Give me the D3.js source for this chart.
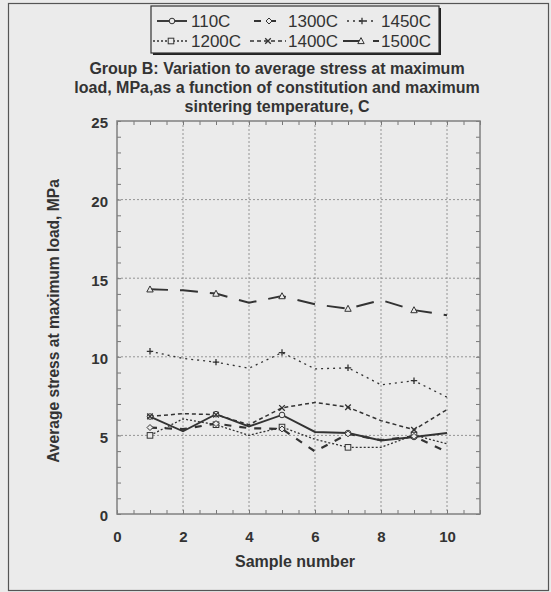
<!DOCTYPE html>
<html>
<head>
<meta charset="utf-8">
<script src="https://cdn.jsdelivr.net/npm/d3@7"></script>
<style>
  body { margin: 0; background: #ebebeb; }
  svg { display: block; font-family: "Liberation Sans", Arial, sans-serif; }
</style>
</head>
<body>
<svg id="chart" width="551" height="592"></svg>
<script>
// data
const samples = [1, 2, 3, 4, 5, 6, 7, 8, 9, 10];
const s110  = [6.2, 5.26, 6.35, 5.57, 6.3, 5.22, 5.15, 4.68, 4.9, 5.15];
const s1200 = [5.0, 6.05, 5.68, 5.0, 5.53, 4.75, 4.24, 4.24, 5.02, 4.47];
const s1300 = [5.5, 5.4, 5.75, 5.46, 5.41, 3.98, 5.1, 4.7, 4.94, 3.95];
const s1400 = [6.21, 6.38, 6.32, 5.68, 6.75, 7.1, 6.79, 5.94, 5.36, 6.64];
const s1450 = [10.35, 9.9, 9.66, 9.27, 10.27, 9.23, 9.3, 8.22, 8.48, 7.43];
const s1500 = [14.29, 14.23, 14.02, 13.44, 13.86, 13.34, 13.06, 13.61, 12.97, 12.65];
const xTicks = [0, 2, 4, 6, 8, 10];
const yTicks = [0, 5, 10, 15, 20, 25];

const series = [
  {name: '110C',  values: s110,  dash: null,    width: 1.9, marker: 'circle'},
  {name: '1200C', values: s1200, dash: '2,2',   width: 1.3, marker: 'square'},
  {name: '1300C', values: s1300, dash: '7,8',   width: 2.2, marker: 'diamond'},
  {name: '1400C', values: s1400, dash: '4,3',   width: 1.5, marker: 'cross'},
  {name: '1450C', values: s1450, dash: '2,4',   width: 1.3, marker: 'plus'},
  {name: '1500C', values: s1500, dash: '18,12', width: 2,   marker: 'triangle'}
];

const ink = '#333';
const bg = '#ebebeb';
const svg = d3.select('#chart');

// outer frame
svg.append('rect')
  .attr('x', 8.5).attr('y', 3.5).attr('width', 540).attr('height', 587)
  .attr('fill', bg).attr('stroke', '#555').attr('stroke-width', 1.2);

const pLeft = 117, pRight = 480, pTop = 121, pBottom = 514;
const x = d3.scaleLinear().domain([0, 11]).range([pLeft, pRight]);
const y = d3.scaleLinear().domain([0, 25]).range([pBottom, pTop]);

// grid
const grid = svg.append('g')
  .attr('stroke', '#8a8a8a').attr('stroke-width', 0.9).attr('stroke-dasharray', '2,2');
grid.selectAll('.gx').data(xTicks.filter(d => d > 0))
  .enter().append('line')
    .attr('x1', d => x(d)).attr('x2', d => x(d))
    .attr('y1', pTop).attr('y2', pBottom);
grid.selectAll('.gy').data(yTicks.filter(d => d > 0 && d < 25))
  .enter().append('line')
    .attr('x1', pLeft).attr('x2', pRight)
    .attr('y1', d => y(d)).attr('y2', d => y(d));

// minor ticks, pointing inwards on all four sides
const xMinor = d3.range(0, 11.01, 0.5);
const yMinor = d3.range(0, 25.01, 1);
const tickStyle = g => {
  g.select('.domain').remove();
  g.selectAll('line').attr('stroke', '#777').attr('stroke-width', 1);
  g.selectAll('text').remove();
};
svg.append('g').attr('transform', `translate(0,${pBottom})`)
  .call(d3.axisBottom(x).tickValues(xMinor).tickSize(-4)).call(tickStyle);
svg.append('g').attr('transform', `translate(0,${pTop})`)
  .call(d3.axisTop(x).tickValues(xMinor).tickSize(-4)).call(tickStyle);
svg.append('g').attr('transform', `translate(${pLeft},0)`)
  .call(d3.axisLeft(y).tickValues(yMinor).tickSize(-4)).call(tickStyle);
svg.append('g').attr('transform', `translate(${pRight},0)`)
  .call(d3.axisRight(y).tickValues(yMinor).tickSize(-4)).call(tickStyle);

// plot frame
svg.append('rect')
  .attr('x', pLeft).attr('y', pTop).attr('width', pRight - pLeft).attr('height', pBottom - pTop)
  .attr('fill', 'none').attr('stroke', '#808080').attr('stroke-width', 1.5);

// tick labels
const labelStyle = g => {
  g.select('.domain').remove();
  g.selectAll('line').remove();
  g.selectAll('text').attr('fill', ink).attr('font-size', 15).attr('font-weight', 'bold')
    .attr('font-family', '"Liberation Sans", Arial, sans-serif');
};
svg.append('g').attr('transform', `translate(0,${pBottom + 17})`)
  .call(d3.axisBottom(x).tickValues(xTicks).tickSize(0).tickPadding(0)).call(labelStyle);
svg.append('g').attr('transform', `translate(${pLeft - 9},2)`)
  .call(d3.axisLeft(y).tickValues(yTicks).tickSize(0).tickPadding(0)).call(labelStyle);

// axis titles
svg.append('text')
  .attr('x', 295).attr('y', 567)
  .attr('text-anchor', 'middle').attr('font-size', 16).attr('font-weight', 'bold').attr('fill', ink)
  .text('Sample number');
svg.append('text')
  .attr('transform', `translate(58.5,321) rotate(-90)`)
  .attr('text-anchor', 'middle').attr('font-size', 15.6).attr('font-weight', 'bold').attr('fill', ink)
  .text('Average stress at maximum load, MPa');

// title
const titleLines = [
  'Group B: Variation to average stress at maximum',
  'load, MPa,as a function of constitution and maximum',
  'sintering temperature, C'
];
svg.append('g').selectAll('text').data(titleLines)
  .enter().append('text')
    .attr('x', 277).attr('y', (d, i) => 74 + i * 19)
    .attr('text-anchor', 'middle').attr('font-size', 16).attr('font-weight', 'bold').attr('fill', ink)
    .text(d => d);

// markers
function drawMarker(g, type, cx, cy) {
  const m = g.append('g').attr('transform', `translate(${cx},${cy})`)
    .attr('fill', bg).attr('stroke', ink).attr('stroke-width', 1);
  if (type === 'circle') m.append('circle').attr('r', 2.8);
  else if (type === 'square') m.append('rect').attr('x', -2.8).attr('y', -2.8).attr('width', 5.6).attr('height', 5.6);
  else if (type === 'diamond') m.append('path').attr('d', 'M0,-3L3,0L0,3L-3,0Z');
  else if (type === 'triangle') m.append('path').attr('d', 'M0,-3.4L3.2,2.6L-3.2,2.6Z');
  else if (type === 'plus') m.append('path').attr('d', 'M-3.2,0H3.2M0,-3.2V3.2').attr('stroke-width', 1.3);
  else if (type === 'cross') m.append('path').attr('d', 'M-2.8,-2.8L2.8,2.8M-2.8,2.8L2.8,-2.8').attr('stroke-width', 1.3);
}

const line = d3.line().x((d, i) => x(samples[i])).y(d => y(d));
const plot = svg.append('g');
series.forEach(s => {
  plot.append('path')
    .attr('d', line(s.values))
    .attr('fill', 'none').attr('stroke', ink)
    .attr('stroke-width', s.width)
    .attr('stroke-dasharray', s.dash);
});
series.forEach(s => {
  s.values.forEach((v, i) => {
    if (samples[i] % 2 === 1) drawMarker(plot, s.marker, x(samples[i]), y(v));
  });
});

// legend with shadow
const lg = svg.append('g');
lg.append('rect').attr('x', 153).attr('y', 8).attr('width', 288).attr('height', 47)
  .attr('fill', '#222');
lg.append('rect').attr('x', 151).attr('y', 6).attr('width', 288).attr('height', 47)
  .attr('fill', bg).attr('stroke', ink).attr('stroke-width', 1.2);
const legendOrder = ['110C', '1300C', '1450C', '1200C', '1400C', '1500C'];
const colX = [191, 288, 381];
legendOrder.forEach((name, k) => {
  const s = series.find(d => d.name === name);
  const col = k % 3, row = Math.floor(k / 3);
  const tx = colX[col], ty = 21 + row * 20;
  const x0 = tx - (row === 1 ? 38 : 34), x1 = tx - (row === 1 ? 2 : 4);
  lg.append('line').attr('x1', x0).attr('x2', x1).attr('y1', ty).attr('y2', ty)
    .attr('stroke', ink).attr('stroke-width', s.width).attr('stroke-dasharray', s.dash);
  drawMarker(lg, s.marker, (x0 + x1) / 2, ty);
  lg.append('text').attr('x', tx).attr('y', ty + 6)
    .attr('font-size', 17).attr('fill', ink).text(name);
});
</script>
</body>
</html>
